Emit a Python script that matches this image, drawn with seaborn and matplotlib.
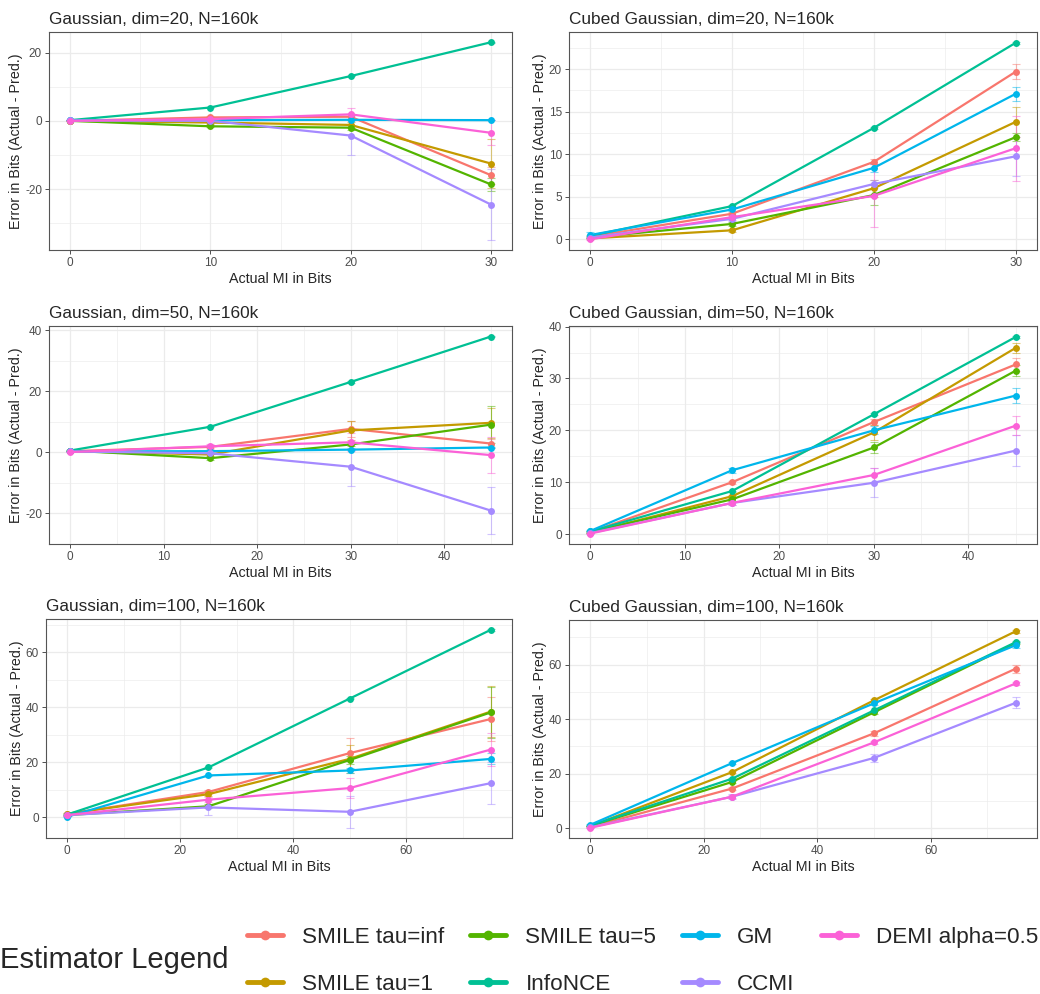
import matplotlib
matplotlib.use("Agg")
import matplotlib.pyplot as plt
from matplotlib.lines import Line2D
from matplotlib.ticker import MultipleLocator
import pandas as pd
import seaborn as sns

# Estimators and ggplot-like hue colours
estimators = ["SMILE tau=inf", "SMILE tau=1", "SMILE tau=5", "InfoNCE", "GM", "CCMI", "DEMI alpha=0.5"]
colors = ["#F8766D", "#C49A00", "#53B400", "#00C094", "#00B6EB", "#A58AFF", "#FB61D7"]

# Actual MI values (x) for each dimension
mi_20 = [0, 10, 20, 30]
mi_50 = [0, 15, 30, 45]
mi_100 = [0, 25, 50, 75]

# Mean error per estimator (rows follow `estimators`)
gauss_20 = [[0.0, 1.0, 1.2, -15.9],
            [0.0, -0.5, -1.2, -12.5],
            [0.0, -1.6, -2.0, -18.6],
            [0.2, 3.9, 13.1, 23.0],
            [0.2, 0.2, 0.3, 0.2],
            [0.1, 0.0, -4.3, -24.5],
            [0.0, 0.5, 1.9, -3.5]]
gauss_20_sd = [[0.1, 0.3, 0.8, 2.5],
               [0.1, 0.3, 1.0, 7.3],
               [0.1, 0.3, 0.8, 2.0],
               [0.05, 0.1, 0.1, 0.1],
               [0.05, 0.05, 0.05, 0.1],
               [0.1, 0.5, 5.7, 10.4],
               [0.1, 0.3, 1.8, 3.7]]

cubed_20 = [[0.3, 3.0, 9.1, 19.7],
            [0.1, 1.05, 6.0, 13.8],
            [0.2, 1.8, 5.2, 12.0],
            [0.4, 3.9, 13.1, 23.1],
            [0.5, 3.5, 8.4, 17.1],
            [0.2, 2.4, 6.5, 9.75],
            [0.0, 2.6, 5.1, 10.7]]
cubed_20_sd = [[0.1, 0.2, 0.3, 0.9],
               [0.1, 0.2, 1.0, 1.8],
               [0.1, 0.2, 1.2, 0.5],
               [0.05, 0.1, 0.1, 0.1],
               [0.3, 0.2, 0.5, 0.8],
               [0.1, 0.3, 0.5, 2.3],
               [0.1, 0.3, 3.7, 3.8]]

gauss_50 = [[0.3, 1.7, 7.6, 2.8],
            [0.3, -0.8, 7.1, 9.6],
            [0.5, -2.0, 2.5, 9.0],
            [0.5, 8.3, 23.0, 37.9],
            [0.2, 0.3, 0.8, 1.5],
            [0.2, -0.4, -4.8, -19.2],
            [0.0, 1.9, 3.2, -1.0]]
gauss_50_sd = [[0.1, 0.3, 2.5, 1.5],
               [0.1, 0.5, 3.0, 5.0],
               [0.1, 0.5, 0.5, 6.0],
               [0.1, 0.1, 0.2, 0.2],
               [0.05, 0.1, 0.2, 0.3],
               [0.1, 0.3, 6.3, 7.7],
               [0.1, 0.8, 3.0, 6.0]]

cubed_50 = [[0.4, 10.0, 21.6, 32.7],
            [0.3, 7.3, 19.6, 35.9],
            [0.4, 6.7, 16.7, 31.5],
            [0.5, 8.3, 23.1, 38.0],
            [0.6, 12.3, 20.0, 26.7],
            [0.2, 6.0, 9.9, 16.1],
            [0.1, 6.0, 11.4, 20.9]]
cubed_50_sd = [[0.1, 0.3, 0.5, 1.3],
               [0.1, 0.3, 1.5, 1.0],
               [0.1, 0.3, 1.0, 1.0],
               [0.1, 0.1, 0.2, 0.2],
               [0.1, 0.5, 0.8, 1.4],
               [0.1, 0.3, 2.8, 3.0],
               [0.1, 0.3, 1.3, 1.8]]

gauss_100 = [[1.2, 9.2, 23.3, 35.7],
             [1.3, 8.4, 21.2, 38.4],
             [0.8, 4.0, 20.8, 38.1],
             [1.0, 18.1, 43.1, 68.1],
             [0.2, 15.2, 17.0, 21.2],
             [0.8, 3.6, 2.0, 12.4],
             [0.8, 6.4, 10.6, 24.6]]
gauss_100_sd = [[0.2, 0.8, 5.6, 8.0],
                [0.2, 0.8, 5.0, 9.2],
                [0.2, 0.8, 1.5, 9.4],
                [0.1, 0.2, 0.3, 0.3],
                [0.1, 0.3, 1.0, 2.0],
                [0.2, 2.6, 5.9, 7.6],
                [0.2, 1.0, 3.5, 6.0]]

cubed_100 = [[0.5, 14.6, 34.8, 58.5],
             [0.8, 20.6, 46.9, 72.2],
             [0.9, 17.0, 42.5, 67.9],
             [1.0, 18.2, 43.2, 68.2],
             [1.3, 23.9, 45.8, 67.1],
             [0.4, 11.6, 25.8, 46.0],
             [0.2, 11.6, 31.5, 53.1]]
cubed_100_sd = [[0.1, 0.5, 0.8, 1.5],
                [0.1, 0.3, 0.5, 0.5],
                [0.1, 0.3, 0.5, 0.5],
                [0.1, 0.3, 0.3, 0.3],
                [0.2, 0.3, 0.5, 1.0],
                [0.1, 1.0, 1.5, 2.0],
                [0.1, 0.5, 0.5, 0.5]]

panels = [
    ("Gaussian, dim=20, N=160k", mi_20, gauss_20, gauss_20_sd, 10, 20, (49, 512, 32, 250)),
    ("Cubed Gaussian, dim=20, N=160k", mi_20, cubed_20, cubed_20_sd, 10, 5, (569, 1037, 32, 250)),
    ("Gaussian, dim=50, N=160k", mi_50, gauss_50, gauss_50_sd, 10, 20, (49, 512, 326, 544)),
    ("Cubed Gaussian, dim=50, N=160k", mi_50, cubed_50, cubed_50_sd, 10, 10, (569, 1037, 326, 544)),
    ("Gaussian, dim=100, N=160k", mi_100, gauss_100, gauss_100_sd, 20, 20, (46, 512, 619, 838)),
    ("Cubed Gaussian, dim=100, N=160k", mi_100, cubed_100, cubed_100_sd, 20, 20, (569, 1037, 620, 838)),
]

# Long-form table
rows = []
for title, mi, means, sds, _, _, _ in panels:
    for est, m_row, s_row in zip(estimators, means, sds):
        for x, m, s in zip(mi, m_row, s_row):
            rows.append({"panel": title, "estimator": est, "mi": x, "err": m, "sd": s})
df = pd.DataFrame(rows)

sns.set_style("white")
plt.rcParams["font.family"] = ["Liberation Sans", "DejaVu Sans"]
plt.rcParams["axes.unicode_minus"] = False

W, H = 1040, 994
fig = plt.figure(figsize=(W / 100, H / 100), dpi=100)

for title, mi, means, sds, xstep, ystep, (l, r, t, b) in panels:
    ax = fig.add_axes([l / W, 1 - b / H, (r - l) / W, (b - t) / H])
    sub = df[df["panel"] == title]
    for est, col in zip(estimators, colors):
        d = sub[sub["estimator"] == est]
        ax.errorbar(d["mi"], d["err"], yerr=d["sd"], fmt="none", ecolor=col,
                    alpha=0.5, elinewidth=0.8, capsize=3, capthick=0.8)
    sns.lineplot(data=sub, x="mi", y="err", hue="estimator", hue_order=estimators,
                 palette=colors, linewidth=1.6, marker="o", markersize=5,
                 markeredgewidth=0, errorbar=None, legend=False, ax=ax)

    lo = (sub["err"] - sub["sd"]).min()
    hi = (sub["err"] + sub["sd"]).max()
    pad = 0.05 * (hi - lo)
    ax.set_ylim(lo - pad, hi + pad)
    xmax = max(mi)
    ax.set_xlim(-0.05 * xmax, 1.05 * xmax)

    ax.xaxis.set_major_locator(MultipleLocator(xstep))
    ax.xaxis.set_minor_locator(MultipleLocator(xstep / 2))
    ax.yaxis.set_major_locator(MultipleLocator(ystep))
    ax.yaxis.set_minor_locator(MultipleLocator(ystep / 2))
    ax.grid(which="major", color="#EBEBEB", linewidth=0.9)
    ax.grid(which="minor", color="#EBEBEB", linewidth=0.45)
    ax.set_axisbelow(True)
    for s in ax.spines.values():
        s.set_color("#555555")
        s.set_linewidth(0.8)
    ax.tick_params(which="major", length=3, width=0.6, color="#333333",
                   labelsize=8.5, labelcolor="#4D4D4D", pad=2, bottom=True, left=True)
    ax.tick_params(which="minor", length=0)

    ax.set_title(title, loc="left", fontsize=12.4, pad=6)
    ax.set_xlabel("Actual MI in Bits", fontsize=10.3, labelpad=2)
    ax.set_ylabel("Error in Bits (Actual - Pred.)", fontsize=10.3, labelpad=1.5)

# Legend at bottom
handles = [Line2D([], [], color=c, linewidth=3.5, marker="o", markersize=7,
                  markeredgewidth=0) for c in colors]
fig.legend(handles, estimators, ncol=4, loc="center left",
           bbox_to_anchor=(247 / W, 1 - 961 / H), frameon=False, fontsize=16.2,
           handlelength=1.6, handletextpad=0.85, columnspacing=1.15,
           labelspacing=1.15, borderpad=0, borderaxespad=0)
fig.text(0, 1 - 960 / H, "Estimator Legend", fontsize=21, va="center", ha="left")

fig.savefig("out.png", dpi=100)
